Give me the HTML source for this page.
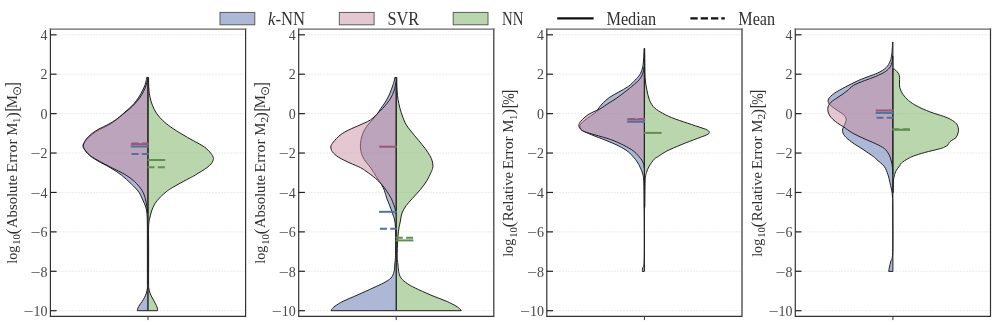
<!DOCTYPE html>
<html lang="en">
<head>
<meta charset="utf-8">
<title>Violin plots of absolute and relative errors</title>
<style>
html,body{margin:0;padding:0;background:#fff;}
body{width:996px;height:325px;overflow:hidden;}
svg{display:block;}
text{font-family:"Liberation Serif","DejaVu Serif",serif;fill:#303030;}
.tk{font-size:14px;fill:#484848;}
.yl text{font-size:15px;}
.yl text.sub{font-size:10.8px;}
.yl text.pc{font-size:16.5px;}
.yl text.odot{font-family:"DejaVu Sans","Liberation Sans",sans-serif;font-size:12px;}
.lg text{font-size:18px;}
</style>
</head>
<body>
<svg width="996" height="325" viewBox="0 0 996 325">
<rect width="996" height="325" fill="#fff"/>
<g>
<line x1="50.4" y1="310.70" x2="245.6" y2="310.70" stroke="#e5e5e5" stroke-width="0.8" stroke-dasharray="1.9 1.15"/>
<line x1="50.4" y1="271.29" x2="245.6" y2="271.29" stroke="#e5e5e5" stroke-width="0.8" stroke-dasharray="1.9 1.15"/>
<line x1="50.4" y1="231.87" x2="245.6" y2="231.87" stroke="#e5e5e5" stroke-width="0.8" stroke-dasharray="1.9 1.15"/>
<line x1="50.4" y1="192.46" x2="245.6" y2="192.46" stroke="#e5e5e5" stroke-width="0.8" stroke-dasharray="1.9 1.15"/>
<line x1="50.4" y1="153.04" x2="245.6" y2="153.04" stroke="#e5e5e5" stroke-width="0.8" stroke-dasharray="1.9 1.15"/>
<line x1="50.4" y1="113.63" x2="245.6" y2="113.63" stroke="#e5e5e5" stroke-width="0.8" stroke-dasharray="1.9 1.15"/>
<line x1="50.4" y1="74.21" x2="245.6" y2="74.21" stroke="#e5e5e5" stroke-width="0.8" stroke-dasharray="1.9 1.15"/>
<line x1="50.4" y1="34.80" x2="245.6" y2="34.80" stroke="#e5e5e5" stroke-width="0.8" stroke-dasharray="1.9 1.15"/>
<path d="M148.00 77.50L146.70 77.50C146.62 78.00 146.45 79.35 146.20 80.50C145.95 81.65 145.77 82.82 145.20 84.40C144.63 85.98 143.87 87.87 142.80 90.00C141.73 92.13 140.27 94.93 138.80 97.20C137.33 99.47 135.60 101.73 134.00 103.60C132.40 105.47 131.07 106.67 129.20 108.40C127.33 110.13 124.93 112.10 122.80 114.00C120.67 115.90 118.80 117.93 116.40 119.80C114.00 121.67 111.20 123.58 108.40 125.20C105.60 126.82 102.27 128.02 99.60 129.50C96.93 130.98 94.53 132.47 92.40 134.10C90.27 135.73 88.27 137.68 86.80 139.30C85.33 140.92 84.22 142.65 83.60 143.80C82.98 144.95 82.97 145.27 83.10 146.20C83.23 147.13 83.38 147.93 84.40 149.40C85.42 150.87 87.07 153.13 89.20 155.00C91.33 156.87 93.60 158.43 97.20 160.60C100.80 162.77 106.73 165.57 110.80 168.00C114.87 170.43 118.17 172.53 121.60 175.20C125.03 177.87 128.53 181.20 131.40 184.00C134.27 186.80 136.90 189.33 138.80 192.00C140.70 194.67 141.60 197.33 142.80 200.00C144.00 202.67 145.27 205.03 146.00 208.00C146.73 210.97 146.97 212.47 147.20 217.80C147.42 223.13 147.32 229.13 147.35 240.00C147.38 250.87 147.39 275.00 147.40 283.00C147.41 291.00 147.57 286.33 147.40 288.00C147.23 289.67 146.87 291.45 146.40 293.00C145.93 294.55 145.33 295.87 144.60 297.30C143.87 298.73 142.83 300.32 142.00 301.60C141.17 302.88 140.27 303.93 139.60 305.00C138.93 306.07 138.38 307.13 138.00 308.00C137.62 308.87 137.42 309.83 137.30 310.20L137.30 310.70L148.00 310.70Z" fill="#5b71ad" fill-opacity="0.50" stroke="#202020" stroke-width="1.0" stroke-linejoin="round"/>
<path d="M148.00 79.00L147.70 79.00C147.38 80.17 146.50 83.92 145.80 86.00C145.10 88.08 144.53 89.50 143.50 91.50C142.47 93.50 141.08 95.92 139.60 98.00C138.12 100.08 136.27 102.20 134.60 104.00C132.93 105.80 131.57 107.08 129.60 108.80C127.63 110.52 125.07 112.50 122.80 114.30C120.53 116.10 118.47 117.88 116.00 119.60C113.53 121.32 110.83 123.05 108.00 124.60C105.17 126.15 101.67 127.42 99.00 128.90C96.33 130.38 94.10 131.83 92.00 133.50C89.90 135.17 87.78 137.22 86.40 138.90C85.02 140.58 84.22 142.38 83.70 143.60C83.18 144.82 83.15 145.23 83.30 146.20C83.45 147.17 83.58 147.93 84.60 149.40C85.62 150.87 87.30 153.23 89.40 155.00C91.50 156.77 93.40 157.83 97.20 160.00C101.00 162.17 107.60 165.60 112.20 168.00C116.80 170.40 121.07 172.13 124.80 174.40C128.53 176.67 131.73 178.93 134.60 181.60C137.47 184.27 140.23 187.60 142.00 190.40C143.77 193.20 144.40 195.73 145.20 198.40C146.00 201.07 146.38 203.97 146.80 206.40C147.22 208.83 147.55 211.90 147.70 213.00L148.00 213.00Z" fill="#cb8fa3" fill-opacity="0.50" stroke="#202020" stroke-width="1.0" stroke-linejoin="round"/>
<path d="M148.00 77.50L148.50 77.50C148.57 79.45 148.65 85.92 148.90 89.20C149.15 92.48 149.42 94.53 150.00 97.20C150.58 99.87 151.33 102.53 152.40 105.20C153.47 107.87 154.67 110.63 156.40 113.20C158.13 115.77 160.40 118.30 162.80 120.60C165.20 122.90 167.60 124.73 170.80 127.00C174.00 129.27 178.27 131.93 182.00 134.20C185.73 136.47 189.47 138.47 193.20 140.60C196.93 142.73 201.47 144.90 204.40 147.00C207.33 149.10 209.32 151.43 210.80 153.20C212.28 154.97 212.88 156.57 213.30 157.60C213.72 158.63 213.47 158.63 213.30 159.40C213.13 160.17 212.98 161.13 212.30 162.20C211.62 163.27 210.53 164.58 209.20 165.80C207.87 167.02 206.13 168.27 204.30 169.50C202.47 170.73 199.95 172.12 198.20 173.20C196.45 174.28 195.32 175.13 193.80 176.00C192.28 176.87 191.73 177.00 189.10 178.40C186.47 179.80 181.08 182.68 178.00 184.40C174.92 186.12 172.55 187.48 170.60 188.70C168.65 189.92 168.00 190.32 166.30 191.70C164.60 193.08 162.32 194.98 160.40 197.00C158.48 199.02 156.27 201.47 154.80 203.80C153.33 206.13 152.48 208.40 151.60 211.00C150.72 213.60 150.00 216.67 149.50 219.40C149.00 222.13 148.74 222.30 148.60 227.40C148.46 232.50 148.65 240.73 148.65 250.00C148.65 259.27 148.57 276.67 148.60 283.00C148.62 289.33 148.57 286.33 148.80 288.00C149.03 289.67 149.50 291.50 150.00 293.00C150.50 294.50 151.13 295.67 151.80 297.00C152.47 298.33 153.27 299.63 154.00 301.00C154.73 302.37 155.65 304.03 156.20 305.20C156.75 306.37 157.07 307.17 157.30 308.00C157.53 308.83 157.55 309.83 157.60 310.20L157.60 310.70L148.00 310.70Z" fill="#73ad59" fill-opacity="0.50" stroke="#202020" stroke-width="1.0" stroke-linejoin="round"/>
<line x1="130.8" y1="146.5" x2="148.7" y2="146.5" stroke="#54709e" stroke-width="2"/>
<line x1="131.6" y1="154.1" x2="148.7" y2="154.1" stroke="#54709e" stroke-width="2" stroke-dasharray="7.0 3.3"/>
<line x1="130.8" y1="144.2" x2="148.7" y2="144.2" stroke="#965a73" stroke-width="2"/>
<line x1="131.6" y1="143.6" x2="148.7" y2="143.6" stroke="#965a73" stroke-width="2" stroke-dasharray="7.0 3.3"/>
<line x1="147.5" y1="160.0" x2="165.2" y2="160.0" stroke="#628f4f" stroke-width="2"/>
<line x1="147.5" y1="167.2" x2="165.2" y2="167.2" stroke="#628f4f" stroke-width="2" stroke-dasharray="7.0 3.3"/>
<path d="M50.40 29.00V316.45H245.60V29.00" fill="none" stroke="#333" stroke-width="1.2" stroke-linecap="square"/>
<line x1="49.80" y1="29.00" x2="246.20" y2="29.00" stroke="#666" stroke-width="1.25"/>
<line x1="50.4" y1="310.70" x2="56.6" y2="310.70" stroke="#222" stroke-width="1.2"/>
<line x1="50.4" y1="271.29" x2="56.6" y2="271.29" stroke="#222" stroke-width="1.2"/>
<line x1="50.4" y1="231.87" x2="56.6" y2="231.87" stroke="#222" stroke-width="1.2"/>
<line x1="50.4" y1="192.46" x2="56.6" y2="192.46" stroke="#222" stroke-width="1.2"/>
<line x1="50.4" y1="153.04" x2="56.6" y2="153.04" stroke="#222" stroke-width="1.2"/>
<line x1="50.4" y1="113.63" x2="56.6" y2="113.63" stroke="#222" stroke-width="1.2"/>
<line x1="50.4" y1="74.21" x2="56.6" y2="74.21" stroke="#222" stroke-width="1.2"/>
<line x1="50.4" y1="34.80" x2="56.6" y2="34.80" stroke="#222" stroke-width="1.2"/>
<line x1="148.0" y1="316.4" x2="148.0" y2="320.1" stroke="#333" stroke-width="1"/>
<text x="47.5" y="315.9" text-anchor="end" class="tk">10</text>
<text x="23.8" y="315.9" class="tk" textLength="10" lengthAdjust="spacingAndGlyphs">−</text>
<text x="47.5" y="276.5" text-anchor="end" class="tk">8</text>
<text x="30.8" y="276.5" class="tk" textLength="10" lengthAdjust="spacingAndGlyphs">−</text>
<text x="47.5" y="237.1" text-anchor="end" class="tk">6</text>
<text x="30.8" y="237.1" class="tk" textLength="10" lengthAdjust="spacingAndGlyphs">−</text>
<text x="47.5" y="197.7" text-anchor="end" class="tk">4</text>
<text x="30.8" y="197.7" class="tk" textLength="10" lengthAdjust="spacingAndGlyphs">−</text>
<text x="47.5" y="158.2" text-anchor="end" class="tk">2</text>
<text x="30.8" y="158.2" class="tk" textLength="10" lengthAdjust="spacingAndGlyphs">−</text>
<text x="47.5" y="118.8" text-anchor="end" class="tk">0</text>
<text x="47.5" y="79.4" text-anchor="end" class="tk">2</text>
<text x="47.5" y="40.0" text-anchor="end" class="tk">4</text>
</g>
<g>
<line x1="298.7" y1="310.70" x2="493.8" y2="310.70" stroke="#e5e5e5" stroke-width="0.8" stroke-dasharray="1.9 1.15"/>
<line x1="298.7" y1="271.29" x2="493.8" y2="271.29" stroke="#e5e5e5" stroke-width="0.8" stroke-dasharray="1.9 1.15"/>
<line x1="298.7" y1="231.87" x2="493.8" y2="231.87" stroke="#e5e5e5" stroke-width="0.8" stroke-dasharray="1.9 1.15"/>
<line x1="298.7" y1="192.46" x2="493.8" y2="192.46" stroke="#e5e5e5" stroke-width="0.8" stroke-dasharray="1.9 1.15"/>
<line x1="298.7" y1="153.04" x2="493.8" y2="153.04" stroke="#e5e5e5" stroke-width="0.8" stroke-dasharray="1.9 1.15"/>
<line x1="298.7" y1="113.63" x2="493.8" y2="113.63" stroke="#e5e5e5" stroke-width="0.8" stroke-dasharray="1.9 1.15"/>
<line x1="298.7" y1="74.21" x2="493.8" y2="74.21" stroke="#e5e5e5" stroke-width="0.8" stroke-dasharray="1.9 1.15"/>
<line x1="298.7" y1="34.80" x2="493.8" y2="34.80" stroke="#e5e5e5" stroke-width="0.8" stroke-dasharray="1.9 1.15"/>
<path d="M396.25 77.50L394.80 77.50C394.70 78.08 394.57 79.58 394.20 81.00C393.83 82.42 393.37 83.83 392.60 86.00C391.83 88.17 390.80 91.33 389.60 94.00C388.40 96.67 386.87 99.60 385.40 102.00C383.93 104.40 382.23 106.32 380.80 108.40C379.37 110.48 378.20 112.60 376.80 114.50C375.40 116.40 374.07 117.85 372.40 119.80C370.73 121.75 368.40 123.93 366.80 126.20C365.20 128.47 363.78 131.00 362.80 133.40C361.82 135.80 361.30 138.33 360.90 140.60C360.50 142.87 360.30 144.87 360.40 147.00C360.50 149.13 360.83 151.27 361.50 153.40C362.17 155.53 362.85 157.37 364.40 159.80C365.95 162.23 368.80 165.17 370.80 168.00C372.80 170.83 374.67 174.13 376.40 176.80C378.13 179.47 379.87 181.73 381.20 184.00C382.53 186.27 383.47 188.00 384.40 190.40C385.33 192.80 385.95 195.97 386.80 198.40C387.65 200.83 388.57 202.57 389.50 205.00C390.43 207.43 391.52 210.33 392.40 213.00C393.28 215.67 394.27 217.83 394.80 221.00C395.33 224.17 395.47 227.17 395.60 232.00C395.73 236.83 395.65 245.40 395.60 250.00C395.55 254.60 395.43 257.27 395.30 259.60C395.17 261.93 395.02 261.97 394.80 264.00C394.58 266.03 394.65 269.45 394.00 271.80C393.35 274.15 392.60 276.27 390.90 278.10C389.20 279.93 386.80 281.15 383.80 282.80C380.80 284.45 377.33 285.95 372.90 288.00C368.47 290.05 362.17 292.88 357.20 295.10C352.23 297.32 346.77 299.48 343.10 301.30C339.43 303.12 337.05 304.72 335.20 306.00C333.35 307.28 332.67 308.28 332.00 309.00C331.33 309.72 331.33 310.08 331.20 310.30L331.20 310.70L396.25 310.70Z" fill="#5b71ad" fill-opacity="0.50" stroke="#202020" stroke-width="1.0" stroke-linejoin="round"/>
<path d="M396.25 82.50L395.90 82.50C395.58 83.88 394.85 88.22 394.00 90.80C393.15 93.38 392.00 95.87 390.80 98.00C389.60 100.13 388.40 101.60 386.80 103.60C385.20 105.60 382.63 108.47 381.20 110.00C379.77 111.53 379.20 111.80 378.20 112.80C377.20 113.80 376.50 114.80 375.20 116.00C373.90 117.20 372.27 118.80 370.40 120.00C368.53 121.20 366.13 122.20 364.00 123.20C361.87 124.20 359.73 125.07 357.60 126.00C355.47 126.93 353.33 127.80 351.20 128.80C349.07 129.80 346.67 130.93 344.80 132.00C342.93 133.07 341.37 134.13 340.00 135.20C338.63 136.27 337.70 137.27 336.60 138.40C335.50 139.53 334.23 140.97 333.40 142.00C332.57 143.03 332.03 143.77 331.60 144.60C331.17 145.43 330.67 145.80 330.80 147.00C330.93 148.20 331.07 150.07 332.40 151.80C333.73 153.53 335.87 155.53 338.80 157.40C341.73 159.27 346.40 161.30 350.00 163.00C353.60 164.70 357.73 166.23 360.40 167.60C363.07 168.97 363.47 169.40 366.00 171.20C368.53 173.00 372.93 176.13 375.60 178.40C378.27 180.67 380.13 182.67 382.00 184.80C383.87 186.93 385.27 188.93 386.80 191.20C388.33 193.47 390.03 196.13 391.20 198.40C392.37 200.67 393.10 202.87 393.80 204.80C394.50 206.73 395.03 208.47 395.40 210.00C395.77 211.53 395.90 213.33 396.00 214.00L396.25 214.00Z" fill="#cb8fa3" fill-opacity="0.50" stroke="#202020" stroke-width="1.0" stroke-linejoin="round"/>
<path d="M396.25 77.50L396.80 77.50C396.82 78.92 396.78 82.98 396.90 86.00C397.02 89.02 397.18 92.67 397.50 95.60C397.82 98.53 398.18 100.80 398.80 103.60C399.42 106.40 400.13 109.17 401.20 112.40C402.27 115.63 403.60 119.90 405.20 123.00C406.80 126.10 408.53 128.07 410.80 131.00C413.07 133.93 416.40 137.67 418.80 140.60C421.20 143.53 423.33 146.07 425.20 148.60C427.07 151.13 428.83 153.73 430.00 155.80C431.17 157.87 431.72 159.47 432.20 161.00C432.68 162.53 432.83 163.77 432.90 165.00C432.97 166.23 432.95 167.10 432.60 168.40C432.25 169.70 431.77 170.73 430.80 172.80C429.83 174.87 428.53 178.00 426.80 180.80C425.07 183.60 422.80 186.67 420.40 189.60C418.00 192.53 414.77 195.73 412.40 198.40C410.03 201.07 407.93 203.17 406.20 205.60C404.47 208.03 402.97 210.43 402.00 213.00C401.03 215.57 400.93 218.33 400.40 221.00C399.87 223.67 399.25 225.83 398.80 229.00C398.35 232.17 397.97 235.33 397.70 240.00C397.43 244.67 397.17 253.00 397.20 257.00C397.23 261.00 397.65 261.53 397.90 264.00C398.15 266.47 398.17 269.45 398.70 271.80C399.23 274.15 399.67 276.13 401.10 278.10C402.53 280.07 404.95 281.95 407.30 283.60C409.65 285.25 411.27 286.08 415.20 288.00C419.13 289.92 425.68 292.88 430.90 295.10C436.12 297.32 442.33 299.48 446.50 301.30C450.67 303.12 453.65 304.72 455.90 306.00C458.15 307.28 459.12 308.28 460.00 309.00C460.88 309.72 461.00 310.08 461.20 310.30L461.20 310.70L396.25 310.70Z" fill="#73ad59" fill-opacity="0.50" stroke="#202020" stroke-width="1.0" stroke-linejoin="round"/>
<line x1="379.1" y1="146.7" x2="396.9" y2="146.7" stroke="#965a73" stroke-width="2"/>
<line x1="379.1" y1="211.8" x2="396.9" y2="211.8" stroke="#54709e" stroke-width="2"/>
<line x1="379.9" y1="228.7" x2="396.9" y2="228.7" stroke="#54709e" stroke-width="2" stroke-dasharray="7.0 3.3"/>
<line x1="395.8" y1="240.4" x2="413.4" y2="240.4" stroke="#628f4f" stroke-width="2"/>
<line x1="395.8" y1="237.8" x2="413.4" y2="237.8" stroke="#628f4f" stroke-width="2" stroke-dasharray="7.0 3.3"/>
<path d="M298.70 29.00V316.45H493.80V29.00" fill="none" stroke="#333" stroke-width="1.2" stroke-linecap="square"/>
<line x1="298.10" y1="29.00" x2="494.40" y2="29.00" stroke="#666" stroke-width="1.25"/>
<line x1="298.7" y1="310.70" x2="304.9" y2="310.70" stroke="#222" stroke-width="1.2"/>
<line x1="298.7" y1="271.29" x2="304.9" y2="271.29" stroke="#222" stroke-width="1.2"/>
<line x1="298.7" y1="231.87" x2="304.9" y2="231.87" stroke="#222" stroke-width="1.2"/>
<line x1="298.7" y1="192.46" x2="304.9" y2="192.46" stroke="#222" stroke-width="1.2"/>
<line x1="298.7" y1="153.04" x2="304.9" y2="153.04" stroke="#222" stroke-width="1.2"/>
<line x1="298.7" y1="113.63" x2="304.9" y2="113.63" stroke="#222" stroke-width="1.2"/>
<line x1="298.7" y1="74.21" x2="304.9" y2="74.21" stroke="#222" stroke-width="1.2"/>
<line x1="298.7" y1="34.80" x2="304.9" y2="34.80" stroke="#222" stroke-width="1.2"/>
<line x1="396.2" y1="316.4" x2="396.2" y2="320.1" stroke="#333" stroke-width="1"/>
<text x="295.8" y="315.9" text-anchor="end" class="tk">10</text>
<text x="272.1" y="315.9" class="tk" textLength="10" lengthAdjust="spacingAndGlyphs">−</text>
<text x="295.8" y="276.5" text-anchor="end" class="tk">8</text>
<text x="279.1" y="276.5" class="tk" textLength="10" lengthAdjust="spacingAndGlyphs">−</text>
<text x="295.8" y="237.1" text-anchor="end" class="tk">6</text>
<text x="279.1" y="237.1" class="tk" textLength="10" lengthAdjust="spacingAndGlyphs">−</text>
<text x="295.8" y="197.7" text-anchor="end" class="tk">4</text>
<text x="279.1" y="197.7" class="tk" textLength="10" lengthAdjust="spacingAndGlyphs">−</text>
<text x="295.8" y="158.2" text-anchor="end" class="tk">2</text>
<text x="279.1" y="158.2" class="tk" textLength="10" lengthAdjust="spacingAndGlyphs">−</text>
<text x="295.8" y="118.8" text-anchor="end" class="tk">0</text>
<text x="295.8" y="79.4" text-anchor="end" class="tk">2</text>
<text x="295.8" y="40.0" text-anchor="end" class="tk">4</text>
</g>
<g>
<line x1="546.8" y1="310.70" x2="742.0" y2="310.70" stroke="#e5e5e5" stroke-width="0.8" stroke-dasharray="1.9 1.15"/>
<line x1="546.8" y1="271.29" x2="742.0" y2="271.29" stroke="#e5e5e5" stroke-width="0.8" stroke-dasharray="1.9 1.15"/>
<line x1="546.8" y1="231.87" x2="742.0" y2="231.87" stroke="#e5e5e5" stroke-width="0.8" stroke-dasharray="1.9 1.15"/>
<line x1="546.8" y1="192.46" x2="742.0" y2="192.46" stroke="#e5e5e5" stroke-width="0.8" stroke-dasharray="1.9 1.15"/>
<line x1="546.8" y1="153.04" x2="742.0" y2="153.04" stroke="#e5e5e5" stroke-width="0.8" stroke-dasharray="1.9 1.15"/>
<line x1="546.8" y1="113.63" x2="742.0" y2="113.63" stroke="#e5e5e5" stroke-width="0.8" stroke-dasharray="1.9 1.15"/>
<line x1="546.8" y1="74.21" x2="742.0" y2="74.21" stroke="#e5e5e5" stroke-width="0.8" stroke-dasharray="1.9 1.15"/>
<line x1="546.8" y1="34.80" x2="742.0" y2="34.80" stroke="#e5e5e5" stroke-width="0.8" stroke-dasharray="1.9 1.15"/>
<path d="M644.40 48.50L644.20 48.50C644.10 50.42 643.88 56.75 643.60 60.00C643.32 63.25 643.03 65.73 642.50 68.00C641.97 70.27 641.42 71.80 640.40 73.60C639.38 75.40 638.40 76.67 636.40 78.80C634.40 80.93 631.33 84.20 628.40 86.40C625.47 88.60 622.00 90.13 618.80 92.00C615.60 93.87 612.00 95.60 609.20 97.60C606.40 99.60 603.87 102.07 602.00 104.00C600.13 105.93 599.00 107.87 598.00 109.20C597.00 110.53 597.23 110.87 596.00 112.00C594.77 113.13 592.43 114.67 590.60 116.00C588.77 117.33 586.53 118.77 585.00 120.00C583.47 121.23 582.23 122.37 581.40 123.40C580.57 124.43 579.90 125.07 580.00 126.20C580.10 127.33 580.07 128.77 582.00 130.20C583.93 131.63 587.60 133.10 591.60 134.80C595.60 136.50 601.47 138.53 606.00 140.40C610.53 142.27 615.13 144.13 618.80 146.00C622.47 147.87 625.55 149.73 628.00 151.60C630.45 153.47 632.00 155.53 633.50 157.20C635.00 158.87 635.85 159.83 637.00 161.60C638.15 163.37 639.43 165.70 640.40 167.80C641.37 169.90 642.23 171.80 642.80 174.20C643.37 176.60 643.57 176.73 643.80 182.20C644.02 187.67 644.08 194.20 644.15 207.00C644.22 219.80 644.44 248.83 644.20 259.00C643.96 269.17 643.02 266.00 642.70 268.00C642.38 270.00 642.37 270.50 642.30 271.00L642.30 271.40L644.40 271.40Z" fill="#5b71ad" fill-opacity="0.50" stroke="#202020" stroke-width="1.0" stroke-linejoin="round"/>
<path d="M644.40 67.00L644.00 67.00C643.87 67.83 643.67 70.33 643.20 72.00C642.73 73.67 642.17 75.40 641.20 77.00C640.23 78.60 639.00 80.00 637.40 81.60C635.80 83.20 633.43 85.07 631.60 86.60C629.77 88.13 628.87 88.90 626.40 90.80C623.93 92.70 619.87 95.87 616.80 98.00C613.73 100.13 610.53 101.93 608.00 103.60C605.47 105.27 603.27 106.93 601.60 108.00C599.93 109.07 599.27 109.40 598.00 110.00C596.73 110.60 595.67 110.80 594.00 111.60C592.33 112.40 589.93 113.50 588.00 114.80C586.07 116.10 583.83 117.97 582.40 119.40C580.97 120.83 579.98 122.30 579.40 123.40C578.82 124.50 578.70 125.00 578.90 126.00C579.10 127.00 579.62 128.43 580.60 129.40C581.58 130.37 582.43 130.90 584.80 131.80C587.17 132.70 590.47 133.50 594.80 134.80C599.13 136.10 606.00 137.87 610.80 139.60C615.60 141.33 619.87 143.33 623.60 145.20C627.33 147.07 630.67 148.93 633.20 150.80C635.73 152.67 637.33 154.78 638.80 156.40C640.27 158.02 641.17 159.13 642.00 160.50C642.83 161.87 643.43 163.35 643.80 164.60C644.17 165.85 644.13 167.43 644.20 168.00L644.40 168.00Z" fill="#cb8fa3" fill-opacity="0.50" stroke="#202020" stroke-width="1.0" stroke-linejoin="round"/>
<path d="M644.40 48.50L644.70 48.50C644.73 51.75 644.80 62.75 644.90 68.00C645.00 73.25 644.98 76.40 645.30 80.00C645.62 83.60 646.15 86.40 646.80 89.60C647.45 92.80 648.13 96.40 649.20 99.20C650.27 102.00 651.33 104.27 653.20 106.40C655.07 108.53 657.33 110.13 660.40 112.00C663.47 113.87 667.07 115.73 671.60 117.60C676.13 119.47 682.53 121.47 687.60 123.20C692.67 124.93 698.80 126.90 702.00 128.00C705.20 129.10 705.57 129.08 706.80 129.80C708.03 130.52 709.40 131.47 709.40 132.30C709.40 133.13 708.83 133.77 706.80 134.80C704.77 135.83 701.47 136.85 697.20 138.50C692.93 140.15 686.27 142.60 681.20 144.70C676.13 146.80 670.63 149.13 666.80 151.10C662.97 153.07 660.30 155.15 658.20 156.50C656.10 157.85 655.70 157.58 654.20 159.20C652.70 160.82 650.48 163.97 649.20 166.20C647.92 168.43 647.17 170.20 646.50 172.60C645.83 175.00 645.48 174.78 645.20 180.60C644.92 186.42 644.87 203.02 644.80 207.50L644.40 207.50Z" fill="#73ad59" fill-opacity="0.50" stroke="#202020" stroke-width="1.0" stroke-linejoin="round"/>
<line x1="627.2" y1="121.8" x2="645.1" y2="121.8" stroke="#54709e" stroke-width="2"/>
<line x1="627.2" y1="119.5" x2="645.1" y2="119.5" stroke="#965a73" stroke-width="2"/>
<line x1="628.0" y1="118.9" x2="645.1" y2="118.9" stroke="#965a73" stroke-width="2" stroke-dasharray="7.0 3.3"/>
<line x1="643.9" y1="132.9" x2="661.6" y2="132.9" stroke="#628f4f" stroke-width="2"/>
<path d="M546.80 29.00V316.45H742.00V29.00" fill="none" stroke="#333" stroke-width="1.2" stroke-linecap="square"/>
<line x1="546.20" y1="29.00" x2="742.60" y2="29.00" stroke="#666" stroke-width="1.25"/>
<line x1="546.8" y1="310.70" x2="553.0" y2="310.70" stroke="#222" stroke-width="1.2"/>
<line x1="546.8" y1="271.29" x2="553.0" y2="271.29" stroke="#222" stroke-width="1.2"/>
<line x1="546.8" y1="231.87" x2="553.0" y2="231.87" stroke="#222" stroke-width="1.2"/>
<line x1="546.8" y1="192.46" x2="553.0" y2="192.46" stroke="#222" stroke-width="1.2"/>
<line x1="546.8" y1="153.04" x2="553.0" y2="153.04" stroke="#222" stroke-width="1.2"/>
<line x1="546.8" y1="113.63" x2="553.0" y2="113.63" stroke="#222" stroke-width="1.2"/>
<line x1="546.8" y1="74.21" x2="553.0" y2="74.21" stroke="#222" stroke-width="1.2"/>
<line x1="546.8" y1="34.80" x2="553.0" y2="34.80" stroke="#222" stroke-width="1.2"/>
<line x1="644.4" y1="316.4" x2="644.4" y2="320.1" stroke="#333" stroke-width="1"/>
<text x="543.9" y="315.9" text-anchor="end" class="tk">10</text>
<text x="520.2" y="315.9" class="tk" textLength="10" lengthAdjust="spacingAndGlyphs">−</text>
<text x="543.9" y="276.5" text-anchor="end" class="tk">8</text>
<text x="527.2" y="276.5" class="tk" textLength="10" lengthAdjust="spacingAndGlyphs">−</text>
<text x="543.9" y="237.1" text-anchor="end" class="tk">6</text>
<text x="527.2" y="237.1" class="tk" textLength="10" lengthAdjust="spacingAndGlyphs">−</text>
<text x="543.9" y="197.7" text-anchor="end" class="tk">4</text>
<text x="527.2" y="197.7" class="tk" textLength="10" lengthAdjust="spacingAndGlyphs">−</text>
<text x="543.9" y="158.2" text-anchor="end" class="tk">2</text>
<text x="527.2" y="158.2" class="tk" textLength="10" lengthAdjust="spacingAndGlyphs">−</text>
<text x="543.9" y="118.8" text-anchor="end" class="tk">0</text>
<text x="543.9" y="79.4" text-anchor="end" class="tk">2</text>
<text x="543.9" y="40.0" text-anchor="end" class="tk">4</text>
</g>
<g>
<line x1="795.3" y1="310.70" x2="990.5" y2="310.70" stroke="#e5e5e5" stroke-width="0.8" stroke-dasharray="1.9 1.15"/>
<line x1="795.3" y1="271.29" x2="990.5" y2="271.29" stroke="#e5e5e5" stroke-width="0.8" stroke-dasharray="1.9 1.15"/>
<line x1="795.3" y1="231.87" x2="990.5" y2="231.87" stroke="#e5e5e5" stroke-width="0.8" stroke-dasharray="1.9 1.15"/>
<line x1="795.3" y1="192.46" x2="990.5" y2="192.46" stroke="#e5e5e5" stroke-width="0.8" stroke-dasharray="1.9 1.15"/>
<line x1="795.3" y1="153.04" x2="990.5" y2="153.04" stroke="#e5e5e5" stroke-width="0.8" stroke-dasharray="1.9 1.15"/>
<line x1="795.3" y1="113.63" x2="990.5" y2="113.63" stroke="#e5e5e5" stroke-width="0.8" stroke-dasharray="1.9 1.15"/>
<line x1="795.3" y1="74.21" x2="990.5" y2="74.21" stroke="#e5e5e5" stroke-width="0.8" stroke-dasharray="1.9 1.15"/>
<line x1="795.3" y1="34.80" x2="990.5" y2="34.80" stroke="#e5e5e5" stroke-width="0.8" stroke-dasharray="1.9 1.15"/>
<path d="M892.90 42.00L892.70 42.00C892.55 44.00 892.22 50.80 891.80 54.00C891.38 57.20 891.13 58.93 890.20 61.20C889.27 63.47 888.07 65.73 886.20 67.60C884.33 69.47 881.53 71.07 879.00 72.40C876.47 73.73 874.47 74.23 871.00 75.60C867.53 76.97 862.47 78.70 858.20 80.60C853.93 82.50 849.40 84.87 845.40 87.00C841.40 89.13 837.00 91.40 834.20 93.40C831.40 95.40 829.45 97.27 828.60 99.00C827.75 100.73 827.90 102.07 829.10 103.80C830.30 105.53 833.48 107.67 835.80 109.40C838.12 111.13 841.27 112.60 843.00 114.20C844.73 115.80 845.93 117.27 846.20 119.00C846.47 120.73 845.22 122.73 844.60 124.60C843.98 126.47 842.50 128.33 842.50 130.20C842.50 132.07 843.05 133.80 844.60 135.80C846.15 137.80 848.73 139.93 851.80 142.20C854.87 144.47 859.40 147.00 863.00 149.40C866.60 151.80 871.03 154.83 873.40 156.60C875.77 158.37 875.40 158.37 877.20 160.00C879.00 161.63 882.42 164.00 884.20 166.40C885.98 168.80 886.95 171.73 887.90 174.40C888.85 177.07 889.32 179.97 889.90 182.40C890.48 184.83 890.98 186.73 891.40 189.00C891.82 191.27 892.18 192.50 892.40 196.00C892.62 199.50 892.65 200.57 892.70 210.00C892.75 219.43 893.05 243.93 892.70 252.60C892.35 261.27 891.27 258.93 890.60 262.00C889.93 265.07 889.02 269.50 888.70 271.00L888.70 271.40L892.90 271.40Z" fill="#5b71ad" fill-opacity="0.50" stroke="#202020" stroke-width="1.0" stroke-linejoin="round"/>
<path d="M892.90 56.00L892.60 56.00C892.52 57.00 892.50 60.20 892.10 62.00C891.70 63.80 891.32 65.20 890.20 66.80C889.08 68.40 887.80 70.00 885.40 71.60C883.00 73.20 879.27 74.90 875.80 76.40C872.33 77.90 868.33 79.10 864.60 80.60C860.87 82.10 856.33 83.67 853.40 85.40C850.47 87.13 849.40 89.13 847.00 91.00C844.60 92.87 841.67 94.73 839.00 96.60C836.33 98.47 832.82 100.47 831.00 102.20C829.18 103.93 828.58 105.40 828.10 107.00C827.62 108.60 827.62 110.07 828.10 111.80C828.58 113.53 829.45 115.53 831.00 117.40C832.55 119.27 835.27 121.40 837.40 123.00C839.53 124.60 841.40 125.40 843.80 127.00C846.20 128.60 848.60 130.73 851.80 132.60C855.00 134.47 859.00 136.33 863.00 138.20C867.00 140.07 872.23 142.07 875.80 143.80C879.37 145.53 882.23 146.87 884.40 148.60C886.57 150.33 887.73 152.40 888.80 154.20C889.87 156.00 890.25 157.68 890.80 159.40C891.35 161.12 891.80 162.82 892.10 164.50C892.40 166.18 892.48 167.92 892.60 169.50C892.72 171.08 892.77 173.25 892.80 174.00L892.90 174.00Z" fill="#cb8fa3" fill-opacity="0.50" stroke="#202020" stroke-width="1.0" stroke-linejoin="round"/>
<path d="M892.90 69.10L894.40 69.10C894.87 69.55 896.45 70.90 897.20 71.80C897.95 72.70 898.50 73.55 898.90 74.50C899.30 75.45 899.50 76.25 899.60 77.50C899.70 78.75 899.47 80.28 899.50 82.00C899.53 83.72 899.25 85.77 899.80 87.80C900.35 89.83 901.33 92.07 902.80 94.20C904.27 96.33 906.20 98.60 908.60 100.60C911.00 102.60 913.67 104.33 917.20 106.20C920.73 108.07 925.40 110.10 929.80 111.80C934.20 113.50 940.13 115.13 943.60 116.40C947.07 117.67 948.43 118.15 950.60 119.40C952.77 120.65 955.30 122.30 956.60 123.90C957.90 125.50 958.13 127.57 958.40 129.00C958.67 130.43 958.58 131.08 958.20 132.50C957.82 133.92 957.23 136.15 956.10 137.50C954.97 138.85 952.55 139.75 951.40 140.60C950.25 141.45 949.77 141.90 949.20 142.60C948.63 143.30 948.70 144.10 948.00 144.80C947.30 145.50 946.27 146.17 945.00 146.80C943.73 147.43 943.78 147.65 940.40 148.60C937.02 149.55 929.15 151.27 924.70 152.50C920.25 153.73 916.52 154.95 913.70 156.00C910.88 157.05 909.85 157.63 907.80 158.80C905.75 159.97 902.73 161.87 901.40 163.00C900.07 164.13 900.73 164.23 899.80 165.60C898.87 166.97 896.78 169.20 895.80 171.20C894.82 173.20 894.30 175.73 893.90 177.60C893.50 179.47 893.52 179.92 893.40 182.40C893.28 184.88 893.23 190.82 893.20 192.50L892.90 192.50Z" fill="#73ad59" fill-opacity="0.50" stroke="#202020" stroke-width="1.0" stroke-linejoin="round"/>
<line x1="875.7" y1="112.9" x2="893.6" y2="112.9" stroke="#54709e" stroke-width="2"/>
<line x1="876.5" y1="117.7" x2="893.6" y2="117.7" stroke="#54709e" stroke-width="2" stroke-dasharray="7.0 3.3"/>
<line x1="875.7" y1="110.5" x2="893.6" y2="110.5" stroke="#965a73" stroke-width="2"/>
<line x1="892.4" y1="129.8" x2="910.1" y2="129.8" stroke="#628f4f" stroke-width="2"/>
<line x1="892.4" y1="129.3" x2="910.1" y2="129.3" stroke="#628f4f" stroke-width="2" stroke-dasharray="7.0 3.3"/>
<path d="M795.30 29.00V316.45H990.50V29.00" fill="none" stroke="#333" stroke-width="1.2" stroke-linecap="square"/>
<line x1="794.70" y1="29.00" x2="991.10" y2="29.00" stroke="#666" stroke-width="1.25"/>
<line x1="795.3" y1="310.70" x2="801.5" y2="310.70" stroke="#222" stroke-width="1.2"/>
<line x1="795.3" y1="271.29" x2="801.5" y2="271.29" stroke="#222" stroke-width="1.2"/>
<line x1="795.3" y1="231.87" x2="801.5" y2="231.87" stroke="#222" stroke-width="1.2"/>
<line x1="795.3" y1="192.46" x2="801.5" y2="192.46" stroke="#222" stroke-width="1.2"/>
<line x1="795.3" y1="153.04" x2="801.5" y2="153.04" stroke="#222" stroke-width="1.2"/>
<line x1="795.3" y1="113.63" x2="801.5" y2="113.63" stroke="#222" stroke-width="1.2"/>
<line x1="795.3" y1="74.21" x2="801.5" y2="74.21" stroke="#222" stroke-width="1.2"/>
<line x1="795.3" y1="34.80" x2="801.5" y2="34.80" stroke="#222" stroke-width="1.2"/>
<line x1="892.9" y1="316.4" x2="892.9" y2="320.1" stroke="#333" stroke-width="1"/>
<text x="792.4" y="315.9" text-anchor="end" class="tk">10</text>
<text x="768.7" y="315.9" class="tk" textLength="10" lengthAdjust="spacingAndGlyphs">−</text>
<text x="792.4" y="276.5" text-anchor="end" class="tk">8</text>
<text x="775.7" y="276.5" class="tk" textLength="10" lengthAdjust="spacingAndGlyphs">−</text>
<text x="792.4" y="237.1" text-anchor="end" class="tk">6</text>
<text x="775.7" y="237.1" class="tk" textLength="10" lengthAdjust="spacingAndGlyphs">−</text>
<text x="792.4" y="197.7" text-anchor="end" class="tk">4</text>
<text x="775.7" y="197.7" class="tk" textLength="10" lengthAdjust="spacingAndGlyphs">−</text>
<text x="792.4" y="158.2" text-anchor="end" class="tk">2</text>
<text x="775.7" y="158.2" class="tk" textLength="10" lengthAdjust="spacingAndGlyphs">−</text>
<text x="792.4" y="118.8" text-anchor="end" class="tk">0</text>
<text x="792.4" y="79.4" text-anchor="end" class="tk">2</text>
<text x="792.4" y="40.0" text-anchor="end" class="tk">4</text>
</g>
<g transform="translate(16.8 263.0) rotate(-90)" class="yl">
<text x="-0.7" y="0" textLength="18" lengthAdjust="spacingAndGlyphs">log</text>
<text x="18.3" y="3.5" class="sub" textLength="10.6" lengthAdjust="spacingAndGlyphs">10</text>
<text transform="translate(28.6 0.9) scale(1.18 1.12)" x="0" y="0">(</text>
<text x="34.9" y="0" textLength="53.2" lengthAdjust="spacingAndGlyphs">Absolute</text>
<text x="90.6" y="0" textLength="33.0" lengthAdjust="spacingAndGlyphs">Error</text>
<text x="127.2" y="0" textLength="13.2" lengthAdjust="spacingAndGlyphs">M</text>
<text x="140.0" y="3.3" class="sub">1</text>
<text transform="translate(145.1 0.9) scale(1.18 1.12)" x="0" y="0">)</text>
<text transform="translate(151.6 1.6) scale(1.00 1.22)" x="0" y="0">[</text>
<text x="154.8" y="0" textLength="13.2" lengthAdjust="spacingAndGlyphs">M</text>
<text x="167.1" y="4.1" class="odot">⊙</text>
<text transform="translate(175.7 1.6) scale(1.00 1.22)" x="0" y="0">]</text>
</g>
<g transform="translate(265.1 263.0) rotate(-90)" class="yl">
<text x="-0.7" y="0" textLength="18" lengthAdjust="spacingAndGlyphs">log</text>
<text x="18.3" y="3.5" class="sub" textLength="10.6" lengthAdjust="spacingAndGlyphs">10</text>
<text transform="translate(28.6 0.9) scale(1.18 1.12)" x="0" y="0">(</text>
<text x="34.9" y="0" textLength="53.2" lengthAdjust="spacingAndGlyphs">Absolute</text>
<text x="90.6" y="0" textLength="33.0" lengthAdjust="spacingAndGlyphs">Error</text>
<text x="127.2" y="0" textLength="13.2" lengthAdjust="spacingAndGlyphs">M</text>
<text x="140.3" y="3.3" class="sub" textLength="5.8" lengthAdjust="spacingAndGlyphs">2</text>
<text transform="translate(145.1 0.9) scale(1.18 1.12)" x="0" y="0">)</text>
<text transform="translate(151.6 1.6) scale(1.00 1.22)" x="0" y="0">[</text>
<text x="154.8" y="0" textLength="13.2" lengthAdjust="spacingAndGlyphs">M</text>
<text x="167.1" y="4.1" class="odot">⊙</text>
<text transform="translate(175.7 1.6) scale(1.00 1.22)" x="0" y="0">]</text>
</g>
<g transform="translate(513.2 256.1) rotate(-90)" class="yl">
<text x="-0.7" y="0" textLength="18" lengthAdjust="spacingAndGlyphs">log</text>
<text x="18.3" y="3.5" class="sub" textLength="10.6" lengthAdjust="spacingAndGlyphs">10</text>
<text transform="translate(28.6 0.9) scale(1.18 1.12)" x="0" y="0">(</text>
<text x="34.9" y="0" textLength="49.4" lengthAdjust="spacingAndGlyphs">Relative</text>
<text x="86.8" y="0" textLength="33.0" lengthAdjust="spacingAndGlyphs">Error</text>
<text x="123.4" y="0" textLength="13.2" lengthAdjust="spacingAndGlyphs">M</text>
<text x="136.2" y="3.3" class="sub">1</text>
<text transform="translate(141.3 0.9) scale(1.18 1.12)" x="0" y="0">)</text>
<text transform="translate(147.8 1.6) scale(1.00 1.22)" x="0" y="0">[</text>
<text x="151.3" y="1.2" class="pc" textLength="11.4" lengthAdjust="spacingAndGlyphs">%</text>
<text transform="translate(161.4 1.6) scale(1.00 1.22)" x="0" y="0">]</text>
</g>
<g transform="translate(761.8 256.1) rotate(-90)" class="yl">
<text x="-0.7" y="0" textLength="18" lengthAdjust="spacingAndGlyphs">log</text>
<text x="18.3" y="3.5" class="sub" textLength="10.6" lengthAdjust="spacingAndGlyphs">10</text>
<text transform="translate(28.6 0.9) scale(1.18 1.12)" x="0" y="0">(</text>
<text x="34.9" y="0" textLength="49.4" lengthAdjust="spacingAndGlyphs">Relative</text>
<text x="86.8" y="0" textLength="33.0" lengthAdjust="spacingAndGlyphs">Error</text>
<text x="123.4" y="0" textLength="13.2" lengthAdjust="spacingAndGlyphs">M</text>
<text x="136.5" y="3.3" class="sub" textLength="5.8" lengthAdjust="spacingAndGlyphs">2</text>
<text transform="translate(141.3 0.9) scale(1.18 1.12)" x="0" y="0">)</text>
<text transform="translate(147.8 1.6) scale(1.00 1.22)" x="0" y="0">[</text>
<text x="151.3" y="1.2" class="pc" textLength="11.4" lengthAdjust="spacingAndGlyphs">%</text>
<text transform="translate(161.4 1.6) scale(1.00 1.22)" x="0" y="0">]</text>
</g>
<g class="lg">
<rect x="220.0" y="12.4" width="34.8" height="12.4" fill="#5b71ad" fill-opacity="0.50" stroke="#555" stroke-width="0.95"/>
<text x="268.0" y="24.6" textLength="37.0" lengthAdjust="spacingAndGlyphs"><tspan font-style="italic">k</tspan>-NN</text>
<rect x="339.3" y="12.4" width="34.8" height="12.4" fill="#cb8fa3" fill-opacity="0.50" stroke="#555" stroke-width="0.95"/>
<text x="387.4" y="24.6" textLength="31.8" lengthAdjust="spacingAndGlyphs">SVR</text>
<rect x="453.2" y="12.4" width="34.8" height="12.4" fill="#73ad59" fill-opacity="0.50" stroke="#555" stroke-width="0.95"/>
<text x="502.0" y="24.6" textLength="21.4" lengthAdjust="spacingAndGlyphs">NN</text>
<line x1="557.2" y1="18.4" x2="593.6" y2="18.4" stroke="#111" stroke-width="2.1"/>
<text x="606.4" y="24.6" textLength="49.8" lengthAdjust="spacingAndGlyphs">Median</text>
<line x1="690.4" y1="18.4" x2="724.8" y2="18.4" stroke="#111" stroke-width="2.1" stroke-dasharray="7.3 3"/>
<text x="738.3" y="24.6" textLength="36.8" lengthAdjust="spacingAndGlyphs">Mean</text>
</g>
</svg>
</body>
</html>
